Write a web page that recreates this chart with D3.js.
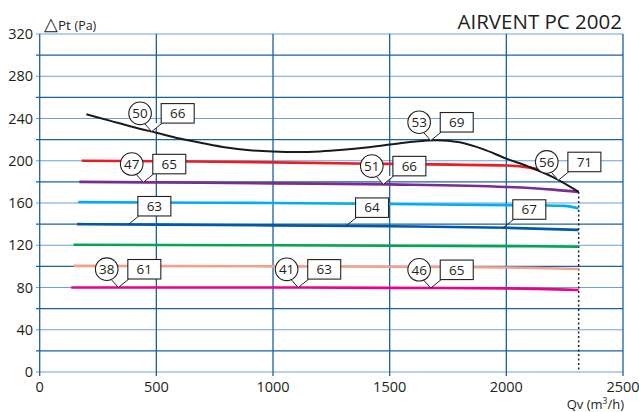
<!DOCTYPE html>
<html><head><meta charset="utf-8">
<script src="https://cdn.jsdelivr.net/npm/d3@7"></script>
<style>
html,body{margin:0;padding:0;background:#fff;}
svg{display:block;font-family:"Open Sans","Noto Sans",sans-serif;}
</style></head>
<body><svg id="c" width="639" height="412"></svg>
<script>
// ---- data ----
const title = "AIRVENT PC 2002";
const xTicks = [0, 500, 1000, 1500, 2000, 2500];
const yTicks = [0, 40, 80, 120, 160, 200, 240, 280, 320];
const yGrid = d3.range(0, 321, 20);
const maxFlow = 2310;

const blackCurve   = [[200,244],[300,238],[400,232],[500,226.5],[600,221],[700,216.5],[800,212.5],[900,210],[1000,208.8],[1100,208.3],[1200,208.8],[1300,210.3],[1400,212.5],[1500,215.3],[1600,218],[1700,219.5],[1800,217.5],[1900,211],[2000,202],[2100,194],[2200,184.5],[2310,170.5]];
const redCurve     = [[180,200],[500,199.5],[1000,198.5],[1500,197],[2000,195.5],[2100,193.5],[2180,189.5]];
const purpleCurve  = [[170,180],[500,179.5],[1000,178.6],[1500,177.6],[2000,175.2],[2200,172.7],[2310,170.5]];
const cyanCurve    = [[165,161],[500,160.5],[1000,160],[1500,159],[2000,158],[2250,157.3],[2310,154.8]];
const navyCurve    = [[160,140],[500,139.5],[1000,138.8],[1500,138],[2000,136.5],[2310,134.6]];
const greenCurve   = [[145,120.5],[1000,120],[2000,119.2],[2310,118.6]];
const salmonCurve  = [[145,100.5],[1000,100],[1500,99.6],[2000,99],[2310,97.5]];
const magentaCurve = [[135,80],[1000,80],[1500,79.6],[2000,79.2],[2310,77.6]];

const seriesNames  = ["black","red","purple","cyan","navy","green","salmon","magenta"];
const seriesColors = ["#1a1a1a","#ed1c24","#7b2c91","#00aeef","#0059a8","#00a651","#f5a088","#ec008c"];
const seriesData   = [blackCurve,redCurve,purpleCurve,cyanCurve,navyCurve,greenCurve,salmonCurve,magentaCurve];

// annotations: series, flow at pointer tip, circle label (or null), box label
const annSeries = ["black","purple","black","purple","black","navy","navy","navy","magenta","magenta","magenta"];
const annFlow   = [480, 444, 1676, 1473, 2223, 380, 1313, 1987, 337, 1108, 1676];
const annCircle = ["50","47","53","51","56",null,null,null,"38","41","46"];
const annBox    = ["66","65","69","66","71","63","64","67","61","63","65"];

// ---- drawing ----
const svg = d3.select("#c");
const x = d3.scaleLinear().domain([0,2500]).range([39.7,623]);
const y = d3.scaleLinear().domain([0,320]).range([372,34]);
const dark = "#1d5fa3", light = "#6aa2d8", txt = "#231f20";

// horizontal grid
svg.append("g").selectAll("line").data(yGrid).join("line")
  .attr("x1", 36).attr("x2", x(2500))
  .attr("y1", d=>y(d)).attr("y2", d=>y(d))
  .attr("stroke", d=> d%40===0 ? light : dark).attr("stroke-width", 1.2);
// vertical grid
svg.append("g").selectAll("line").data(xTicks).join("line")
  .attr("x1", d=>x(d)).attr("x2", d=>x(d))
  .attr("y1", y(320)).attr("y2", y(0)+4)
  .attr("stroke", dark).attr("stroke-width", 1.3);

// y tick labels
svg.append("g").selectAll("text").data(yTicks).join("text")
  .attr("x", 33).attr("y", d=>y(d)+5).attr("text-anchor","end")
  .attr("font-size", 14.5).attr("fill", txt).text(d=>d);
// x tick labels
svg.append("g").selectAll("text").data(xTicks).join("text")
  .attr("x", d=>x(d)).attr("y", 392).attr("text-anchor","middle")
  .attr("font-size", 14.5).attr("fill", txt).text(d=>d);

// titles
svg.append("text").attr("x", 622).attr("y", 29).attr("text-anchor","end")
  .attr("font-size", 20.5).attr("fill", txt).text(title);
const yl = svg.append("text").attr("x", 44).attr("y", 30).attr("fill", txt);
yl.append("tspan").attr("font-size", 18).text("△");
yl.append("tspan").attr("font-size", 13.5).text("Pt ");
yl.append("tspan").attr("font-size", 12.5).text("(Pa)");
const xl = svg.append("text").attr("x", 624).attr("y", 409).attr("text-anchor","end")
  .attr("font-size", 13).attr("fill", txt);
xl.append("tspan").text("Qv (m");
xl.append("tspan").attr("font-size", 8.5).attr("dy", -5).text("3");
xl.append("tspan").attr("dy", 5).text("/h)");

// dotted max line
svg.append("line").attr("x1", x(maxFlow)).attr("x2", x(maxFlow))
  .attr("y1", y(blackCurve[blackCurve.length-1][1])).attr("y2", y(0))
  .attr("stroke", "#222").attr("stroke-width", 1.5).attr("stroke-dasharray","2,2.5");

// curves
const line = d3.line().x(d=>x(d[0])).y(d=>y(d[1])).curve(d3.curveMonotoneX);
const order = [7,6,5,4,3,2,1,0];
svg.append("g").selectAll("path").data(order).join("path")
  .attr("d", i=>line(seriesData[i])).attr("fill","none")
  .attr("stroke", i=>seriesColors[i]).attr("stroke-width", i=> i===0 ? 2 : 2.6);

// annotations
function valAt(data, f){
  for(let i=1;i<data.length;i++){
    if(f<=data[i][0]){ const a=data[i-1], b=data[i]; return a[1]+(b[1]-a[1])*(f-a[0])/(b[0]-a[0]); }
  }
  return data[data.length-1][1];
}
const ag = svg.append("g");
annFlow.forEach((f,i)=>{
  const s = seriesData[seriesNames.indexOf(annSeries[i])];
  const tx = x(f), ty = y(valAt(s,f));
  const bx = tx+9.5, by = ty-8.5, bw = 33, bh = 19.5;
  const g = ag.append("g");
  if(annCircle[i]){
    const cx = tx-11.6, cy = ty-18.3, r = 11.3;
    g.append("path").attr("d", `M${cx+4.5},${cy+r-1} L${tx},${ty} L${bx+1},${by}`)
      .attr("fill","#fff").attr("stroke","#222").attr("stroke-width",1);
    g.append("circle").attr("cx",cx).attr("cy",cy).attr("r",r)
      .attr("fill","#fff").attr("stroke","#222").attr("stroke-width",1.1);
    g.append("text").attr("x",cx).attr("y",cy+4.8).attr("text-anchor","middle")
      .attr("font-size",13.5).attr("fill",txt).text(annCircle[i]);
  } else {
    g.append("line").attr("x1",tx).attr("y1",ty).attr("x2",bx+1).attr("y2",by)
      .attr("stroke","#222").attr("stroke-width",1);
  }
  g.append("rect").attr("x",bx).attr("y",by-bh).attr("width",bw).attr("height",bh)
    .attr("fill","#fff").attr("stroke","#222").attr("stroke-width",1.1);
  g.append("text").attr("x",bx+bw/2).attr("y",by-bh/2+4.8).attr("text-anchor","middle")
    .attr("font-size",13.5).attr("fill",txt).text(annBox[i]);
});
</script>
</body></html>
